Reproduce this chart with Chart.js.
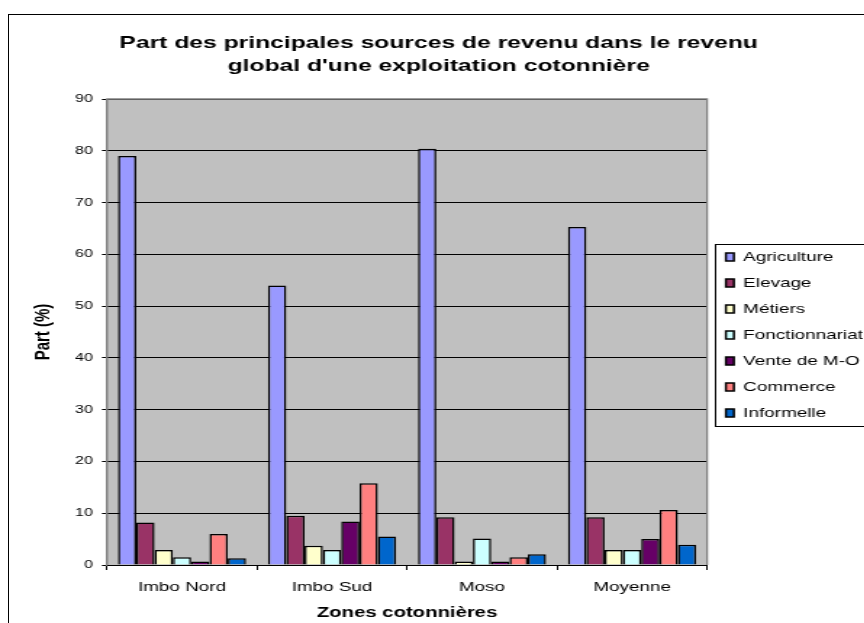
<!DOCTYPE html>
<html>
<head>
<meta charset="utf-8">
<script src="https://cdn.jsdelivr.net/npm/chart.js@4/dist/chart.umd.min.js"></script>
<style>
  html, body { margin: 0; padding: 0; background: #fff; overflow: hidden; width: 864px; height: 623px; }
  #frame { position: absolute; left: 8px; top: 14px; width: 900px; height: 700px; border: 1px solid #000; }
  #wrap { position: absolute; left: 0; top: 0; transform: scaleX(1.45); transform-origin: 0 0; }
  canvas { display: block; }
</style>
</head>
<body>
<div id="frame"></div>
<div id="wrap"><canvas id="c" width="607" height="623" style="width:607px;height:623px"></canvas></div>
<script>
// Zones and income sources (share of total farm income, %)
const zones = ['Imbo Nord', 'Imbo Sud', 'Moso', 'Moyenne'];
const agriculture    = [79.0, 54.0, 80.4, 65.3];
const elevage        = [8.2, 9.5, 9.2, 9.2];
const metiers        = [2.9, 3.7, 0.7, 2.9];
const fonctionnariat = [1.5, 2.9, 5.1, 2.9];
const venteMO        = [0.7, 8.4, 0.7, 5.0];
const commerce       = [6.0, 15.8, 1.5, 10.6];
const informelle     = [1.3, 5.5, 2.1, 3.9];
const yTicks = [0, 10, 20, 30, 40, 50, 60, 70, 80, 90];

const FONT = "'Liberation Sans', Arial, sans-serif";

const series = [
  ['Agriculture', agriculture, '#9999FF'],
  ['Elevage', elevage, '#993366'],
  ['Métiers', metiers, '#FFFFCC'],
  ['Fonctionnariat', fonctionnariat, '#CCFFFF'],
  ['Vente de M-O', venteMO, '#660066'],
  ['Commerce', commerce, '#FF8080'],
  ['Informelle', informelle, '#0066CC']
];

// Grey plot background, grey frame around the plot, boxed legend
const plotFrame = {
  id: 'plotFrame',
  beforeDraw(chart) {
    const {ctx, chartArea: a} = chart;
    ctx.save();
    ctx.fillStyle = '#C0C0C0';
    ctx.fillRect(a.left, a.top, a.right - a.left, a.bottom - a.top);
    ctx.restore();
  },
  beforeDatasetsDraw(chart) {
    const {ctx, chartArea: a} = chart;
    ctx.save();
    ctx.strokeStyle = '#808080';
    ctx.lineWidth = 1.3;
    ctx.beginPath();
    ctx.moveTo(a.left, a.bottom);
    ctx.lineTo(a.left, a.top);
    ctx.lineTo(a.right, a.top);
    ctx.lineTo(a.right, a.bottom);
    ctx.stroke();
    ctx.restore();
  },
  afterDraw(chart) {
    const lg = chart.legend;
    if (!lg || !lg.legendHitBoxes || !lg.legendHitBoxes.length) return;
    const hb = lg.legendHitBoxes;
    const top = hb[0].top - 7;
    const last = hb[hb.length - 1];
    const bottom = last.top + last.height + 6;
    const ctx = chart.ctx;
    ctx.save();
    ctx.strokeStyle = '#000';
    ctx.lineWidth = 1;
    ctx.strokeRect(Math.round(lg.left + 5) + 0.5, Math.round(top) + 0.5, 200, Math.round(bottom - top));
    ctx.restore();
  }
};

new Chart(document.getElementById('c'), {
  type: 'bar',
  data: {
    labels: zones,
    datasets: series.map(([label, values, color]) => ({
      label,
      data: values,
      backgroundColor: color,
      borderColor: '#000',
      borderWidth: 1.5,
      borderSkipped: 'start',
      categoryPercentage: 0.854,
      barPercentage: 1.0
    }))
  },
  options: {
    responsive: false,
    animation: false,
    devicePixelRatio: 1,
    layout: { padding: { left: 0, right: 2, top: 0, bottom: 0 } },
    plugins: {
      title: {
        display: true,
        text: ['Part des principales sources de revenu dans le revenu', "global d'une exploitation cotonnière"],
        color: '#000',
        font: { family: FONT, size: 17, weight: 'bold', lineHeight: 1.35 },
        padding: { top: 31.5, bottom: 21.6 }
      },
      legend: {
        display: true,
        position: 'right',
        fullSize: false,
        align: 'center',
        title: {
          display: true,
          text: '',
          padding: 0,
          font: { family: FONT, size: 6, lineHeight: 1 }
        },
        labels: {
          color: '#000',
          font: { family: FONT, size: 13 },
          boxWidth: 5.5,
          boxHeight: 8,
          padding: 13
        }
      },
      tooltip: { enabled: false }
    },
    scales: {
      x: {
        grid: {
          display: true,
          drawOnChartArea: false,
          drawTicks: true,
          tickLength: 5,
          color: '#000',
          offset: true
        },
        border: { display: true, color: '#000', width: 1 },
        ticks: {
          color: '#000',
          font: { family: FONT, size: 13 },
          padding: 9.2,
          maxRotation: 0
        },
        title: {
          display: true,
          text: 'Zones cotonnières',
          color: '#000',
          font: { family: FONT, size: 14, weight: 'bold', lineHeight: 1.2 },
          padding: { top: 0.6, bottom: 1.6 }
        }
      },
      y: {
        min: 0,
        max: 90,
        afterBuildTicks(scale) {
          scale.ticks = yTicks.map(v => ({ value: v }));
        },
        afterFit(scale) { scale.width = 73.8; },
        grid: {
          color: '#000',
          lineWidth: 1,
          drawTicks: true,
          tickLength: 3.5
        },
        border: { display: true, color: '#808080', width: 1 },
        ticks: {
          color: '#000',
          font: { family: FONT, size: 11 },
          padding: 6.2
        },
        title: {
          display: true,
          text: 'Part (%)',
          color: '#000',
          font: { family: FONT, size: 15, weight: 'bold', lineHeight: 1.2 },
          padding: { top: 21, bottom: 0 }
        }
      }
    }
  },
  plugins: [plotFrame]
});
</script>
</body>
</html>
